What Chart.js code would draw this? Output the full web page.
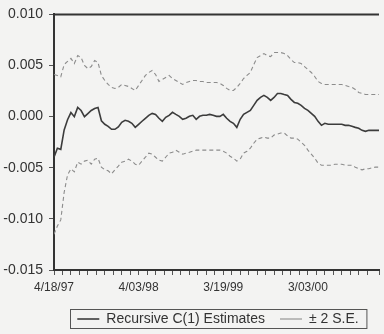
<!DOCTYPE html>
<html>
<head>
<meta charset="utf-8">
<script src="https://cdn.jsdelivr.net/npm/chart.js@4/dist/chart.umd.min.js"></script>
<style>
  html, body { margin: 0; padding: 0; background: #f3f3f2; }
  #wrap { width: 384px; height: 334px; }
</style>
</head>
<body>
<div id="wrap"><canvas id="recursive"></canvas></div>
<script>
// weekly sample, one value every 2 weeks starting 4/18/97
var dateLabels = ['4/18/97', '4/03/98', '3/19/99', '3/03/00'];
var weeksPerLabel = 50;
var sampleStep = 2;

var estimate = [
	-0.00397, -0.0031, -0.0032, -0.0013, -0.0003, 0.0004, 0.0000, 0.0009, 0.0006, 0.0000,
	0.0003, 0.0006, 0.0008, 0.0009, -0.0004, -0.00075, -0.00095, -0.00124, -0.00124, -0.0010,
	-0.00055, -0.00036, -0.00046, -0.00065, -0.00105, -0.00075, -0.00045, -0.00016, 0.00013, 0.00032,
	0.00022, -0.00016, -0.00046, -0.00007, 0.00013, 0.00042, 0.00022, 0.00003, -0.00026, -0.00016,
	0.00003, 0.00013, -0.00026, 0.00003, 0.00013, 0.00013, 0.00022, 0.00013, 0.00003, 0.00003,
	0.00022, -0.00016, -0.00046, -0.00065, -0.00105, -0.00026, 0.00022, 0.00042, 0.00061, 0.0011,
	0.00159, 0.00188, 0.00208, 0.00188, 0.00159, 0.00188, 0.00227, 0.00227, 0.00217, 0.00208,
	0.00169, 0.00139, 0.0013, 0.0011, 0.00081, 0.00061, 0.00032, 0.00003, -0.00046, -0.00085,
	-0.00065, -0.00075, -0.00075, -0.00075, -0.00075, -0.00075, -0.00085, -0.00085, -0.00095, -0.00105,
	-0.00114, -0.00134, -0.00144, -0.00134, -0.00134, -0.00134, -0.00134
];

var upperSE = [
	0.00412, 0.00403, 0.0039, 0.0051, 0.0054, 0.0057, 0.0052, 0.00597, 0.00578, 0.0050,
	0.0047, 0.0049, 0.00548, 0.0053, 0.00403, 0.00354, 0.00315, 0.00286, 0.00276, 0.00286,
	0.00315, 0.00305, 0.00295, 0.00276, 0.00256, 0.00305, 0.00354, 0.00403, 0.00432, 0.00451,
	0.00412, 0.00344, 0.00363, 0.00383, 0.00403, 0.00373, 0.00354, 0.00334, 0.00315, 0.00334,
	0.00344, 0.00354, 0.00354, 0.00344, 0.00344, 0.00334, 0.00334, 0.00334, 0.00334, 0.00325,
	0.00305, 0.00276, 0.00256, 0.00256, 0.00286, 0.00325, 0.00373, 0.00403, 0.00432, 0.00509,
	0.00578, 0.00597, 0.00617, 0.00597, 0.00587, 0.00627, 0.00627, 0.00627, 0.00617, 0.00597,
	0.00558, 0.00529, 0.00529, 0.00519, 0.0049, 0.00461, 0.00432, 0.00393, 0.00344, 0.00325,
	0.00315, 0.00315, 0.00315, 0.00315, 0.00315, 0.00315, 0.00305, 0.00295, 0.00286, 0.00266,
	0.00237, 0.00227, 0.00217, 0.00217, 0.00217, 0.00217, 0.00217
];

var lowerSE = [
	-0.0115, -0.0107, -0.0101, -0.0074, -0.0057, -0.0051, -0.0054, -0.00445, -0.00465, -0.00435,
	-0.00426, -0.00465, -0.00416, -0.00406, -0.00494, -0.0052, -0.0053, -0.0056, -0.0052, -0.00484,
	-0.00445, -0.00435, -0.00416, -0.00435, -0.00465, -0.00475, -0.00435, -0.00397, -0.00357, -0.00367,
	-0.00397, -0.00426, -0.00435, -0.00397, -0.00357, -0.00348, -0.00328, -0.00348, -0.00367, -0.00357,
	-0.00348, -0.00338, -0.00328, -0.00328, -0.00328, -0.00328, -0.00328, -0.00328, -0.00328, -0.00328,
	-0.00338, -0.00357, -0.00387, -0.00406, -0.00435, -0.00416, -0.00357, -0.00338, -0.00309, -0.0026,
	-0.0022, -0.0021, -0.0020, -0.0021, -0.0021, -0.0018, -0.0017, -0.0016, -0.0016, -0.0019,
	-0.0021, -0.0021, -0.0022, -0.0025, -0.0028, -0.00328, -0.00367, -0.00406, -0.00455, -0.00475,
	-0.00475, -0.00475, -0.00475, -0.00465, -0.00465, -0.00465, -0.00475, -0.00475, -0.00475, -0.00494,
	-0.0051, -0.0052, -0.0051, -0.0051, -0.0050, -0.00494, -0.00494
];

function toPoints(arr) {
	return arr.map(function(v, i) { return {x: i * sampleStep, y: v}; });
}

var frame = {
	id: 'frame',
	beforeDraw: function(chart) {
		var ctx = chart.ctx;
		ctx.save();
		ctx.fillStyle = '#f3f3f2';
		ctx.fillRect(0, 0, chart.width, chart.height);
		ctx.restore();
	},
	afterLayout: function(chart) {
		// original legend sits right of centre
		chart.legend.left += 26;
		chart.legend.right += 26;
		chart.legend.top -= 3;
		chart.legend.bottom -= 3;
	},
	afterDraw: function(chart) {
		var ctx = chart.ctx, a = chart.chartArea;
		ctx.save();
		ctx.strokeStyle = '#333';
		ctx.lineWidth = 2;
		ctx.beginPath();
		ctx.moveTo(a.left, a.top);
		ctx.lineTo(a.right, a.top);
		ctx.stroke();

		var boxes = chart.legend.legendHitBoxes;
		if (boxes && boxes.length) {
			var l = boxes[0].left, r = boxes[boxes.length - 1].left + boxes[boxes.length - 1].width;
			var t = boxes[0].top, h = boxes[0].height;
			ctx.lineWidth = 1;
			ctx.strokeStyle = '#555';
			ctx.strokeRect(Math.round(l) - 6.5, Math.round(t) - 2.5, r - l + 15, h + 5);
		}
		ctx.restore();
	}
};

var chart = new Chart(document.getElementById('recursive'), {
	type: 'line',
	data: {
		datasets: [{
			label: 'Recursive C(1) Estimates',
			data: toPoints(estimate),
			borderColor: '#3c3c3c',
			borderWidth: 1.6,
			pointRadius: 0,
			tension: 0
		}, {
			label: '\u00b1 2 S.E.',
			data: toPoints(upperSE),
			borderColor: '#8c8c8c',
			borderWidth: 1.1,
			borderDash: [4, 3],
			pointRadius: 0,
			tension: 0
		}, {
			label: 'lower',
			data: toPoints(lowerSE),
			borderColor: '#8c8c8c',
			borderWidth: 1.1,
			borderDash: [4, 3],
			pointRadius: 0,
			tension: 0
		}]
	},
	options: {
		responsive: true,
		maintainAspectRatio: false,
		animation: false,
		layout: {padding: {top: 13, right: 0, left: 0, bottom: -5}},
		plugins: {
			tooltip: {enabled: false},
			legend: {
				position: 'bottom',
				labels: {
					filter: function(item) { return item.datasetIndex < 2; },
					usePointStyle: true,
					pointStyle: 'line',
					pointStyleWidth: 22,
					boxHeight: 14,
					padding: 15,
					color: '#333',
					font: {family: 'Liberation Sans, Arial', size: 14}
				}
			}
		},
		scales: {
			x: {
				type: 'linear',
				min: 0,
				max: 192,
				afterFit: function(scale) { scale.height = 30; },
				border: {display: true, color: '#333', width: 2},
				grid: {display: true, drawOnChartArea: false, drawTicks: true, tickLength: 5, color: '#555'},
				ticks: {
					stepSize: 5,
					autoSkip: false,
					maxRotation: 0,
					padding: 5,
					color: '#333',
					font: {family: 'Liberation Sans, Arial', size: 12},
					callback: function(v) {
						return v % weeksPerLabel === 0 ? (dateLabels[v / weeksPerLabel] || '') : '';
					}
				}
			},
			y: {
				min: -0.015,
				max: 0.010,
				afterFit: function(scale) { scale.width = 54; },
				border: {display: true, color: '#333', width: 2},
				grid: {display: true, drawOnChartArea: false, drawTicks: true, tickLength: 5, color: '#555'},
				ticks: {
					stepSize: 0.005,
					padding: 6,
					color: '#333',
					font: {family: 'Liberation Sans, Arial', size: 14},
					callback: function(v) { return v.toFixed(3); }
				}
			}
		}
	},
	plugins: [frame]
});
</script>
</body>
</html>
